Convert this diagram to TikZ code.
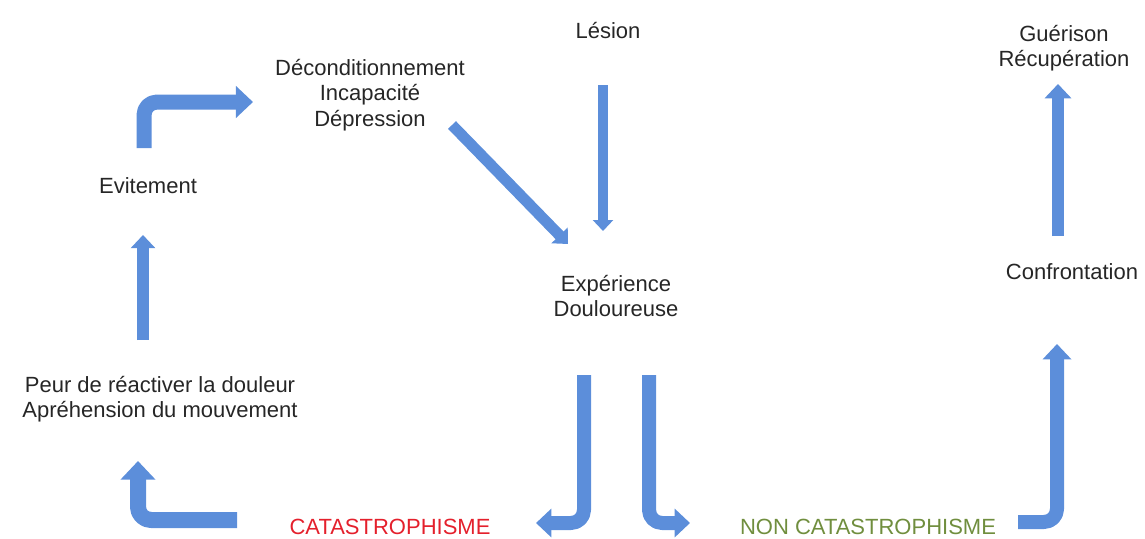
\documentclass[tikz,border=0pt]{standalone}
\usepackage{fontspec}
\setmainfont{Liberation Sans}
\usetikzlibrary{arrows.meta}
\definecolor{arrowblue}{RGB}{92,142,218}
\definecolor{catred}{RGB}{228,32,44}
\definecolor{catgreen}{RGB}{112,142,62}
\tikzset{
  lbl/.style={font=\fontsize{22}{25.5}\selectfont, align=center, inner sep=0pt, text=black!85},
  barrow/.style 2 args={draw=arrowblue, line width=#1, rounded corners=13pt, line join=round,
     -{Triangle[width=#2, length=0.55*#2]}},
}
\begin{document}
\begin{tikzpicture}[x=1pt,y=-1pt]
\useasboundingbox (0,0) rectangle (1145,538);
% labels
\node[lbl] (lesion) at (608,31) {Lésion};
\node[lbl] (guer) at (1064,48) {Guérison\\Récupération};
\node[lbl] (decond) at (370,95) {Déconditionnement\\Incapacité\\Dépression};
\node[lbl] (evit) at (148,186) {Evitement};
\node[lbl] (exp) at (616,296) {Expérience\\Douloureuse};
\node[lbl] (conf) at (1072,272) {Confrontation};
\node[lbl] (peur) at (160,399) {Peur de réactiver la douleur\\Apréhension du mouvement};
\node[lbl, text=catred] (cat) at (390,527) {CATASTROPHISME};
\node[lbl, text=catgreen] (noncat) at (868,527) {NON CATASTROPHISME};
% arrow ends
\coordinate (a1s) at (144,148); \coordinate (a1t) at (253,102);
\coordinate (a2s) at (452,125); \coordinate (a2t) at (568,244);
\coordinate (a3s) at (603,85);  \coordinate (a3t) at (603,231);
\coordinate (a4s) at (143,340); \coordinate (a4t) at (143,235);
\coordinate (a5s) at (584,375); \coordinate (a5t) at (536,523);
\coordinate (a6s) at (649,375); \coordinate (a6t) at (690,523);
\coordinate (a7s) at (237,520); \coordinate (a7t) at (138,461);
\coordinate (a8s) at (1018,522); \coordinate (a8t) at (1057,344);
\coordinate (a9s) at (1058,236); \coordinate (a9t) at (1058,84);
% arrows
\draw[barrow={15pt}{31pt}] (a1s) |- (a1t);
\draw[barrow={11pt}{22pt}] (a2s) -- (a2t);
\draw[barrow={10pt}{20pt}] (a3s) -- (a3t);
\draw[barrow={12pt}{24pt}] (a4s) -- (a4t);
\draw[barrow={14pt}{28pt}] (a5s) |- (a5t);
\draw[barrow={14pt}{28pt}] (a6s) |- (a6t);
\draw[barrow={16pt}{34pt}] (a7s) -| (a7t);
\draw[barrow={14pt}{28pt}] (a8s) -| (a8t);
\draw[barrow={12pt}{26pt}] (a9s) -- (a9t);
\end{tikzpicture}
\end{document}
